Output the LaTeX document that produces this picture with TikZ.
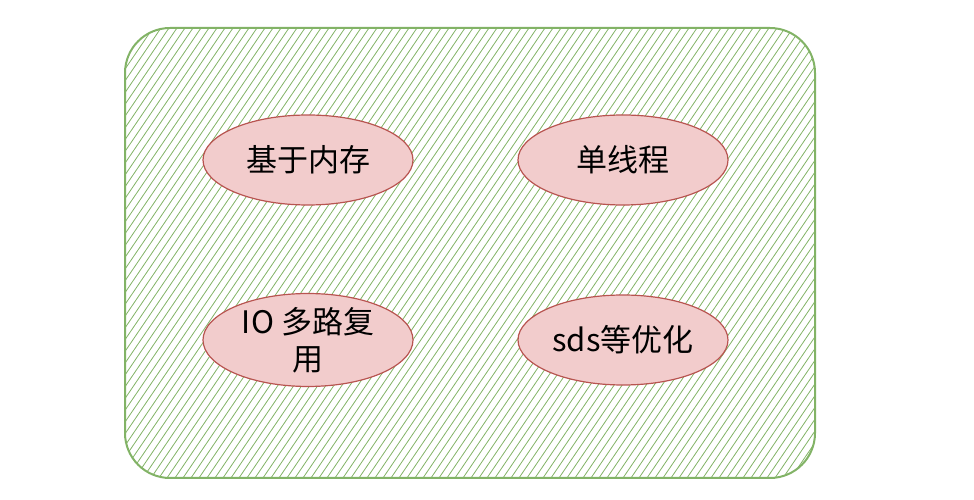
\documentclass[tikz,border=0pt]{standalone}
\usepackage{fontspec}
\setmainfont{Noto Sans CJK SC}
\usetikzlibrary{shapes.geometric}
\definecolor{gr}{HTML}{82B366}
\definecolor{efill}{HTML}{F2CCCC}
\definecolor{edraw}{HTML}{B85450}
\begin{document}
\begin{tikzpicture}[x=1pt,y=1pt,
  ell/.style={ellipse,draw=edraw,fill=efill,line width=1.2pt,minimum width=210pt,minimum height=90pt,font=\fontsize{31}{37}\selectfont,align=center,inner sep=0pt},
]
\useasboundingbox (0,0) rectangle (974,500);
\begin{scope}
\clip[rounded corners=45pt] (125,22) rectangle (815,472);
\foreach \i in {-400,-392,...,820} {
  \draw[gr,line width=0.8pt] (\i,0) -- (\i+340,500);
}
\end{scope}
\draw[gr,line width=2pt,rounded corners=45pt] (125,22) rectangle (815,472);
\node[ell] (a) at (308,340) {基于内存};
\node[ell] (b) at (623,340) {单线程};
\node[ell] (c) at (308,160) {IO 多路复\\用};
\node[ell] (d) at (623,160) {sds等优化};
\end{tikzpicture}
\end{document}
